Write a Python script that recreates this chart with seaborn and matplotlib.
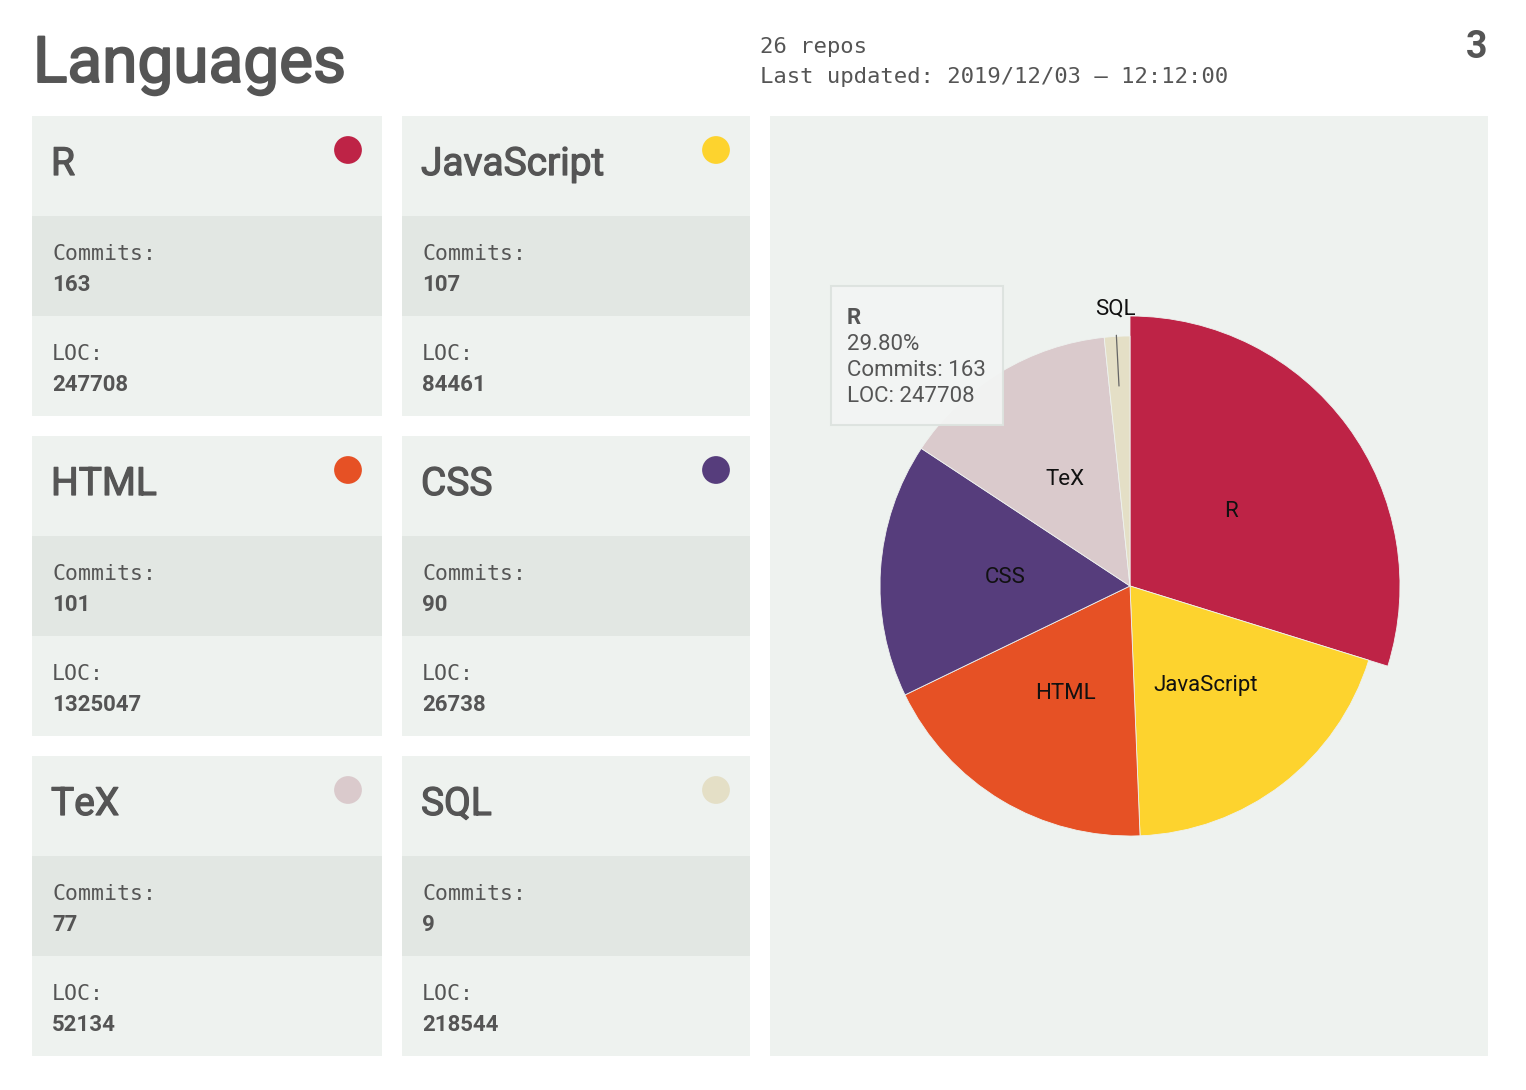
import matplotlib
matplotlib.use("Agg")
import matplotlib.pyplot as plt
import matplotlib.patches as mpatches
import matplotlib.patheffects as pe
import seaborn as sns
import pandas as pd

# data
languages = ["R", "JavaScript", "HTML", "CSS", "TeX", "SQL"]
commits = [163, 107, 101, 90, 77, 9]
loc = [247708, 84461, 1325047, 26738, 52134, 218544]
colors = ["#be2346", "#fdd32e", "#e65125", "#563d7c", "#dacacc", "#e4dfc6"]
n_repos = 26
updated = "2019/12/03 – 12:12:00"
page = "3"

sns.set_theme(style="white")
plt.rcParams["font.family"] = ["Roboto", "DejaVu Sans"]

TXT = "#555555"
PANEL = "#eef2ef"
BAND = "#e2e7e3"
MONO = ["DejaVu Sans Mono"]
# fake a "medium" weight by stroking regular text a little
medium = [pe.withStroke(linewidth=0.9, foreground=TXT)]

W, H = 1526, 1090
fig = plt.figure(figsize=(W / 100, H / 100), dpi=100)
fig.patch.set_facecolor("white")

# full-figure axes in pixel coords for the card layout
ax = fig.add_axes([0, 0, 1, 1])
ax.set_xlim(0, W)
ax.set_ylim(H, 0)
ax.axis("off")

ax.text(33, 82, "Languages", fontsize=46, color=TXT, va="baseline",
        path_effects=[pe.withStroke(linewidth=1.4, foreground=TXT)])
ax.text(760, 53, f"{n_repos} repos", fontsize=16, family=MONO, color=TXT, va="baseline")
ax.text(760, 83, f"Last updated: {updated}", fontsize=16, family=MONO, color=TXT, va="baseline")
ax.text(1487, 58, page, fontsize=27, fontweight="bold", color=TXT, ha="right", va="baseline")

card_x = [32, 402]
card_w = [350, 348]
dots = []
for i, lang in enumerate(languages):
    col, row = i % 2, i // 2
    x0 = card_x[col]
    y0 = 116 + row * 320
    w = card_w[col]
    ax.add_patch(mpatches.Rectangle((x0, y0), w, 100, color=PANEL, lw=0))
    ax.add_patch(mpatches.Rectangle((x0, y0 + 100), w, 100, color=BAND, lw=0))
    ax.add_patch(mpatches.Rectangle((x0, y0 + 200), w, 100, color=PANEL, lw=0))
    ax.text(x0 + 19, y0 + 59, lang, fontsize=28, color=TXT, va="baseline", path_effects=medium)
    ax.text(x0 + 20, y0 + 144, "Commits:", fontsize=15.5, family=MONO, color=TXT, va="baseline")
    ax.text(x0 + 20, y0 + 175, str(commits[i]), fontsize=16, fontweight="bold", color=TXT, va="baseline")
    ax.text(x0 + 20, y0 + 244, "LOC:", fontsize=15.5, family=MONO, color=TXT, va="baseline")
    ax.text(x0 + 20, y0 + 275, str(loc[i]), fontsize=16, fontweight="bold", color=TXT, va="baseline")
    dots.append({"x": x0 + w - 34, "y": y0 + 34, "lang": lang})

dot_df = pd.DataFrame(dots)
sns.scatterplot(data=dot_df, x="x", y="y", hue="lang", palette=colors, s=400,
                edgecolor="none", legend=False, ax=ax)

# pie panel
ax.add_patch(mpatches.Rectangle((770, 116), 718, 940, color=PANEL, lw=0))

cx, cy, r_px = 1130, 586, 250
half = 300
pax = fig.add_axes([(cx - half) / W, (H - cy - half) / H, 2 * half / W, 2 * half / H])
pax.set_zorder(2)

pie_labels = [l if l != "SQL" else "" for l in languages]
wedges, texts = pax.pie(commits, labels=pie_labels, colors=colors, startangle=90,
                        counterclock=False, labeldistance=0.5, radius=1,
                        wedgeprops=dict(linewidth=0.6, edgecolor=PANEL),
                        textprops=dict(fontsize=16, color="#111111", ha="center", va="center"))
pax.set_xlim(-half / r_px, half / r_px)
pax.set_ylim(-half / r_px, half / r_px)
pax.axis("off")
# hovered slice drawn a bit larger
wedges[0].set_radius(1.08)

# SQL outside label with leader line
pax.annotate("SQL", xy=(-0.044, 0.8), xytext=(-0.06, 1.108), fontsize=16, color="#111111",
             ha="center", va="center",
             arrowprops=dict(arrowstyle="-", color="#666666", lw=0.9, shrinkA=9, shrinkB=0))

# tooltip box, on top of the pie
tip = mpatches.Rectangle((831, 286), 172, 139, facecolor="#f3f5f4", edgecolor="#dde3df",
                         lw=1.5, alpha=0.95, transform=ax.transData, zorder=5)
fig.add_artist(tip)
pct = commits[0] / sum(commits) * 100
fig.text(847 / W, 1 - 324 / H, languages[0], fontsize=16, fontweight="bold", color=TXT, zorder=6)
fig.text(847 / W, 1 - 350 / H, f"{pct:.2f}%", fontsize=16, color=TXT, zorder=6)
fig.text(847 / W, 1 - 376 / H, f"Commits: {commits[0]}", fontsize=16, color=TXT, zorder=6)
fig.text(847 / W, 1 - 402 / H, f"LOC: {loc[0]}", fontsize=16, color=TXT, zorder=6)

fig.savefig("out.png", dpi=100, facecolor="white")
